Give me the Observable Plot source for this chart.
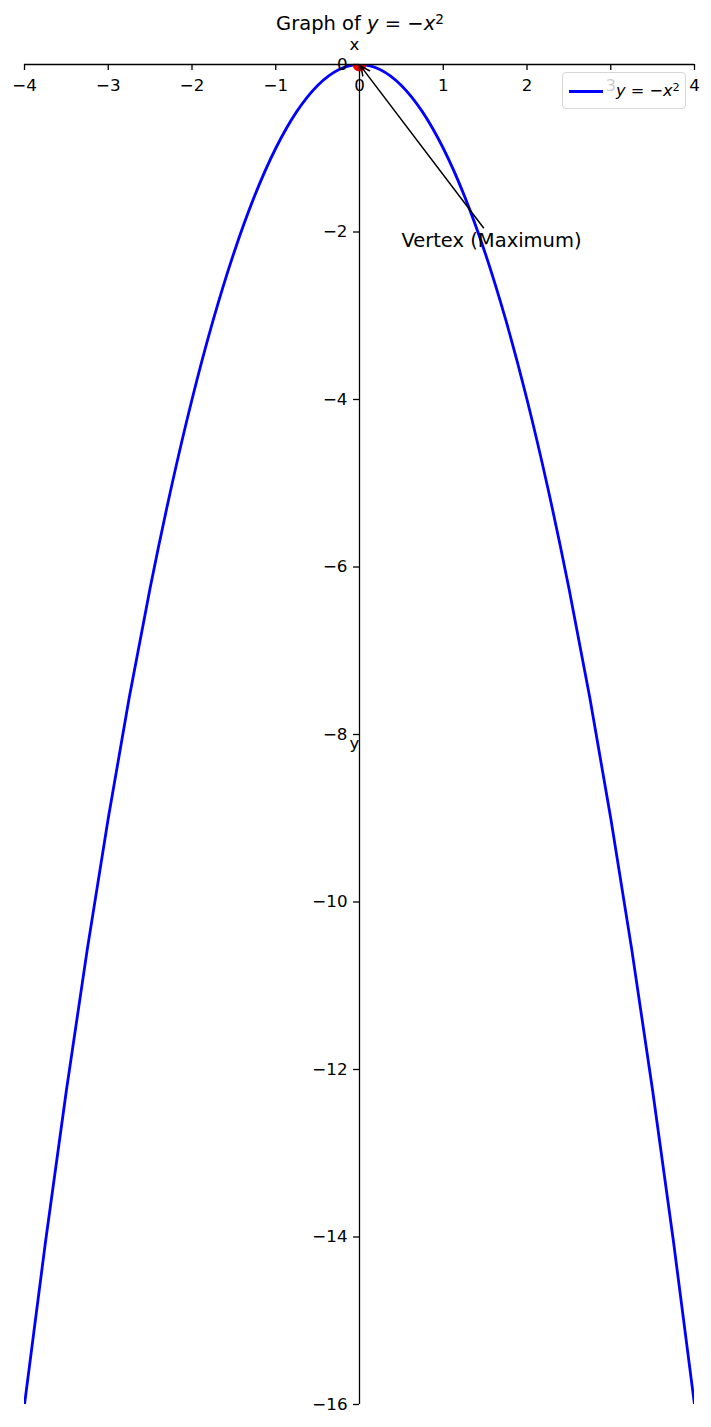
<!DOCTYPE html>
<html>
<head>
<meta charset="utf-8">
<script src="https://cdn.jsdelivr.net/npm/d3@7"></script>
<script src="https://cdn.jsdelivr.net/npm/@observablehq/plot@0.6"></script>
<style>
  body { margin: 0; background: white; font-family: "DejaVu Sans", sans-serif; }
  #wrap { position: relative; width: 711px; height: 1427px; }
  #chart { position: absolute; left: 0; top: 0; }
  #title { position: absolute; left: 360px; top: 12px; transform: translateX(-50%); font-size: 19.5px; line-height: 24px; white-space: nowrap; color: black; z-index: 2; }
  #legend { position: absolute; left: 562px; top: 72px; width: 122px; height: 35px; border: 1px solid #d6d6d6; border-radius: 4px; background: rgba(255,255,255,0.8); font-size: 16.2px; z-index: 2; }
  #legend .swatch { position: absolute; left: 6px; top: 17px; width: 34px; height: 3px; background: blue; }
  #legend .label { position: absolute; left: 53px; top: 8px; line-height: 19px; white-space: nowrap; }
  sup { font-size: 0.7em; vertical-align: 0.45em; line-height: 0; }
</style>
</head>
<body>
<div id="wrap">
  <div id="chart"></div>
  <div id="title">Graph of <i>y</i> = −<i>x</i><sup>2</sup></div>
  <div id="legend"><div class="swatch"></div><div class="label"><i>y</i> = −<i>x</i><sup>2</sup></div></div>
</div>
<script>
// Tick values
const xTicks = [-4, -3, -2, -1, 0, 1, 2, 3, 4];
const yTicks = [0, -2, -4, -6, -8, -10, -12, -14, -16];

const curveX = [-4, -3.75, -3.5, -3.25, -3, -2.75, -2.5, -2.25, -2, -1.75, -1.5, -1.25, -1, -0.75, -0.5, -0.25,
                0, 0.25, 0.5, 0.75, 1, 1.25, 1.5, 1.75, 2, 2.25, 2.5, 2.75, 3, 3.25, 3.5, 3.75, 4];
const curveY = [-16, -14.0625, -12.25, -10.5625, -9, -7.5625, -6.25, -5.0625, -4, -3.0625, -2.25, -1.5625, -1, -0.5625, -0.25, -0.0625,
                0, -0.0625, -0.25, -0.5625, -1, -1.5625, -2.25, -3.0625, -4, -5.0625, -6.25, -7.5625, -9, -10.5625, -12.25, -14.0625, -16];

// Vertex and annotation
const vertexX = [0];
const vertexY = [0];
const annotationLabel = ["Vertex (Maximum)"];
const annotationTextX = [0.5];
const annotationTextY = [-2];
const arrowStartX = [1.48];
const arrowStartY = [-1.95];

const curve = curveX.map((x, i) => ({x, y: curveY[i]}));
const vertex = vertexX.map((x, i) => ({x, y: vertexY[i]}));
const annotation = annotationLabel.map((t, i) => ({
  text: t, tx: annotationTextX[i], ty: annotationTextY[i],
  x1: arrowStartX[i], y1: arrowStartY[i], x2: vertexX[i], y2: vertexY[i]
}));
const fmt = d => d < 0 ? "\u2212" + Math.abs(d) : String(d);
const tickFont = 16.7;

const chart = Plot.plot({
  width: 711,
  height: 1427,
  marginTop: 64,
  marginBottom: 23,
  marginLeft: 24,
  marginRight: 17,
  x: {domain: [-4, 4], axis: null},
  y: {domain: [-16, 0], axis: null},
  style: {fontFamily: "DejaVu Sans", background: "white", color: "black"},
  marks: [
    Plot.line(curve, {x: "x", y: "y", stroke: "blue", strokeWidth: 2.8, curve: "natural", clip: true}),
    Plot.dot(vertex, {x: "x", y: "y", r: 7, fill: "red", stroke: "none", clip: true}),
    Plot.ruleY([0], {stroke: "black", strokeWidth: 1.3}),
    Plot.ruleX([0], {stroke: "black", strokeWidth: 1.3}),
    Plot.ruleX(xTicks, {x: d => d, y1: 0, y2: 0, insetBottom: -6, stroke: "black", strokeWidth: 1.3}),
    Plot.ruleY(yTicks, {y: d => d, x1: 0, x2: 0, insetLeft: -6, stroke: "black", strokeWidth: 1.3}),
    Plot.text(xTicks, {x: d => d, y: 0, dy: 15, lineAnchor: "top", text: fmt, fill: "black", fontSize: tickFont}),
    Plot.text(yTicks, {x: 0, y: d => d, dx: -12, textAnchor: "end", text: fmt, fill: "black", fontSize: tickFont}),
    Plot.text(["x"], {x: 0, y: 0, dx: -5, dy: -20, text: d => d, fill: "black", fontSize: tickFont}),
    Plot.text(["y"], {x: 0, y: -8, dx: -5, dy: 9, text: d => d, fill: "black", fontSize: tickFont}),
    Plot.arrow(annotation, {x1: "x1", y1: "y1", x2: "x2", y2: "y2", stroke: "black", strokeWidth: 1.5, headLength: 10, headAngle: 50, insetEnd: 2}),
    Plot.text(annotation, {x: "tx", y: "ty", text: "text", textAnchor: "start", lineAnchor: "top", dy: 1, fontSize: 19.5, fill: "black"})
  ]
});
document.getElementById("chart").appendChild(chart);
</script>
</body>
</html>
